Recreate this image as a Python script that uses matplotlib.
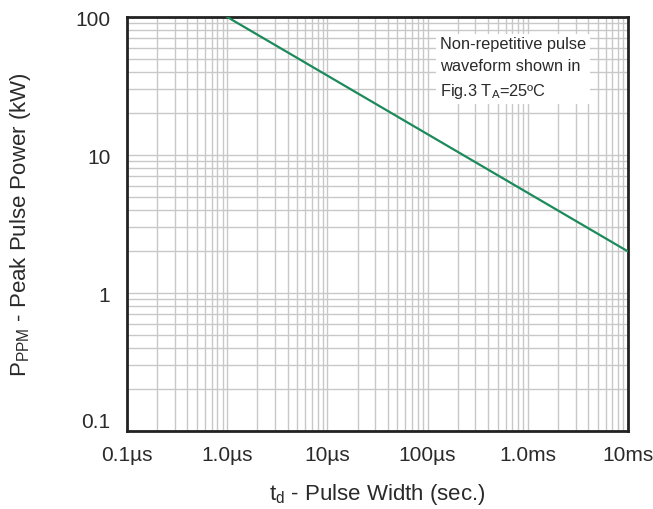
import matplotlib.pyplot as plt
import numpy as np

plt.rcParams['font.family'] = ['Liberation Sans', 'DejaVu Sans']
plt.rcParams['mathtext.fontset'] = 'custom'
plt.rcParams['mathtext.rm'] = 'Liberation Sans'
plt.rcParams['mathtext.it'] = 'Liberation Sans'

# Pulse width (s) and peak pulse power (kW)
pulse_width = [1e-6, 1e-2]
peak_power = [100, 2.0]

x_ticks = [1e-7, 1e-6, 1e-5, 1e-4, 1e-3, 1e-2]
x_labels = ["0.1µs", "1.0µs", "10µs", "100µs", "1.0ms", "10ms"]
y_ticks = [0.1, 1, 10, 100]
y_labels = ["0.1", "1", "10", "100"]

fig = plt.figure(figsize=(6.53, 5.10), dpi=100)
ax = fig.add_axes([127/653, 1 - 432/510, 501/653, 414/510])

ax.plot(pulse_width, peak_power, color="#1d8a5c", linewidth=1.6, zorder=3)

ax.set_xscale("log")
ax.set_yscale("log")
ax.set_xlim(1e-7, 1e-2)
ax.set_ylim(0.1, 100)

ax.set_xticks(x_ticks)
ax.set_xticklabels(x_labels)
ax.set_yticks(y_ticks)
ax.set_yticklabels(y_labels)
ax.tick_params(which="both", length=0, labelsize=15, colors="#2a2a2a")
ax.tick_params(axis="x", pad=10)
ax.tick_params(axis="y", pad=12)
# the bottom "0.1" sits a little above the frame in the original
ax.yaxis.get_major_ticks()[0].label1.set_va("bottom")

ax.grid(True, which="both", color="#c8c8c8", linewidth=1.0)
ax.set_axisbelow(True)

for s in ax.spines.values():
    s.set_linewidth(2.0)
    s.set_color("#222222")

ax.set_xlabel(r"t$_\mathrm{d}$ - Pulse Width (sec.)", fontsize=16, color="#2a2a2a")
ax.set_ylabel(r"P$_\mathrm{PPM}$ - Peak Pulse Power (kW)", fontsize=16, color="#2a2a2a")
ax.xaxis.set_label_coords(0.5, -0.12)
ax.yaxis.set_label_coords(-0.188, 0.5)

ax.text(0.625, 0.955,
        "Non-repetitive pulse\nwaveform shown in\nFig.3 T$_\\mathrm{A}$=25ºC",
        transform=ax.transAxes, fontsize=11.8, color="#2a2a2a",
        va="top", ha="left", linespacing=1.6, zorder=4,
        bbox=dict(facecolor="white", edgecolor="none", pad=3))

fig.savefig("out.png", dpi=100)
